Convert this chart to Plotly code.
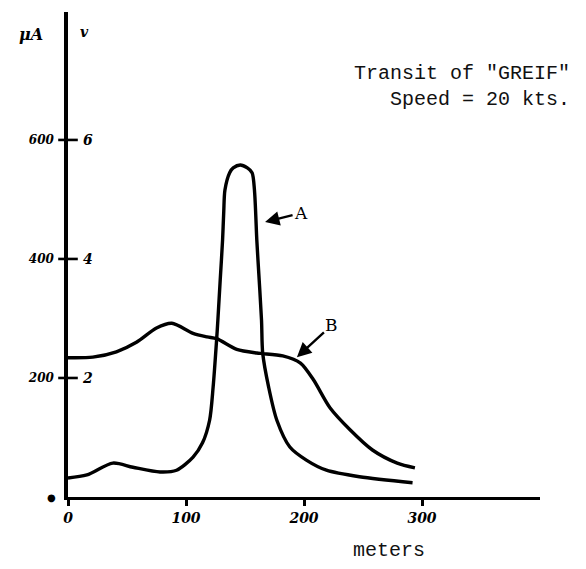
import plotly.graph_objects as go

# Curve A (microamperes vs distance in meters)
dist_A = [0, 16, 38, 55, 78, 92, 106, 114, 120, 123, 126, 127, 129, 131, 132, 133, 137, 140, 146,
          152, 156, 158, 160, 161, 164, 165, 170, 177, 188, 202, 219, 247, 292]
uA_A = [32, 37, 57, 50, 42, 45, 67, 91, 129, 185, 266, 297, 365, 432, 480, 516, 545, 553, 558,
        553, 545, 516, 432, 398, 297, 242, 185, 129, 84, 62, 45, 34, 24]

# Curve B
dist_B = [0, 21, 41, 58, 75, 88, 106, 118, 126, 143, 160, 165, 182, 197, 208, 222, 239, 258, 279, 294]
uA_B = [234, 235, 244, 260, 284, 292, 275, 269, 266, 248, 242, 241, 237, 225, 197, 150, 113, 79, 57, 49]

x_ticks = [100, 200, 300]
x_tick_labels = ["100", "200", "300"]
uA_ticks = [200, 400, 600]
uA_tick_labels = ["200", "400", "600"]
volt_labels = ["2", "4", "6"]

arrow_A = (167, 462)
arrow_B = (194, 235)

hand = dict(family="DejaVu Serif", size=14, color="black", weight="bold", style="italic")
typew = dict(family="Liberation Mono", size=20, color="#111")

fig = go.Figure()
fig.add_trace(go.Scatter(x=dist_A, y=uA_A, mode="lines",
                         line=dict(color="black", width=3.4, shape="spline", smoothing=0.8),
                         showlegend=False, hoverinfo="skip"))
fig.add_trace(go.Scatter(x=dist_B, y=uA_B, mode="lines",
                         line=dict(color="black", width=3.4, shape="spline", smoothing=0.8),
                         showlegend=False, hoverinfo="skip"))
# cross-shaped tick marks on the y axis
fig.add_trace(go.Scatter(x=[0] * len(uA_ticks), y=uA_ticks, mode="markers", cliponaxis=False,
                         marker=dict(symbol="line-ew", size=14, line=dict(width=2.6, color="black")),
                         showlegend=False, hoverinfo="skip"))

annotations = []
for v, t in zip(uA_ticks, volt_labels):
    annotations.append(dict(xref="paper", yref="y", x=0.042, y=v, text=t, showarrow=False,
                            font=hand, xanchor="center", yanchor="middle"))
annotations += [
    dict(xref="paper", yref="paper", x=-0.078, y=0.953, text="μA", showarrow=False,
         font=dict(hand, size=16), xanchor="center", yanchor="middle"),
    dict(xref="paper", yref="paper", x=0.036, y=0.959, text="v", showarrow=False,
         font=hand, xanchor="center", yanchor="middle"),
    dict(xref="paper", yref="paper", x=-0.036, y=0.0, text="●", showarrow=False,
         font=dict(family="DejaVu Sans", size=10, color="black"), xanchor="center", yanchor="middle"),
    dict(xref="paper", yref="paper", x=1.068, y=0.874, text='Transit of "GREIF"', showarrow=False,
         font=typew, xanchor="right", yanchor="middle"),
    dict(xref="paper", yref="paper", x=1.068, y=0.819, text="Speed = 20 kts.", showarrow=False,
         font=typew, xanchor="right", yanchor="middle"),
    dict(xref="paper", yref="paper", x=0.68, y=-0.111, text="meters", showarrow=False,
         font=typew, xanchor="center", yanchor="middle"),
    dict(xref="x", yref="y", x=arrow_A[0], y=arrow_A[1], text="A", showarrow=True,
         ax=36, ay=-9, arrowhead=2, arrowsize=1.2, arrowwidth=2.4, arrowcolor="black",
         font=dict(family="DejaVu Serif", size=17, color="black")),
    dict(xref="x", yref="y", x=arrow_B[0], y=arrow_B[1], text="B", showarrow=True,
         ax=35, ay=-32, arrowhead=2, arrowsize=1.2, arrowwidth=2.4, arrowcolor="black",
         font=dict(family="DejaVu Serif", size=17, color="black")),
]

fig.update_layout(
    width=578, height=561,
    margin=dict(l=60, r=46, t=4, b=72),
    paper_bgcolor="white", plot_bgcolor="white",
    showlegend=False,
    annotations=annotations,
    xaxis=dict(range=[0, 400], showgrid=False, zeroline=False, showline=True,
               linecolor="black", linewidth=3, ticks="outside", ticklen=6, tickwidth=3,
               tickcolor="black", tickvals=[0] + x_ticks, ticktext=["0"] + x_tick_labels,
               tickfont=hand, fixedrange=True),
    yaxis=dict(range=[0, 815], showgrid=False, zeroline=False, showline=True,
               linecolor="black", linewidth=3.5, ticks="", ticklabelstandoff=8,
               tickvals=uA_ticks, ticktext=uA_tick_labels,
               tickfont=dict(hand, size=12), fixedrange=True),
)

fig.write_html("out.html")
